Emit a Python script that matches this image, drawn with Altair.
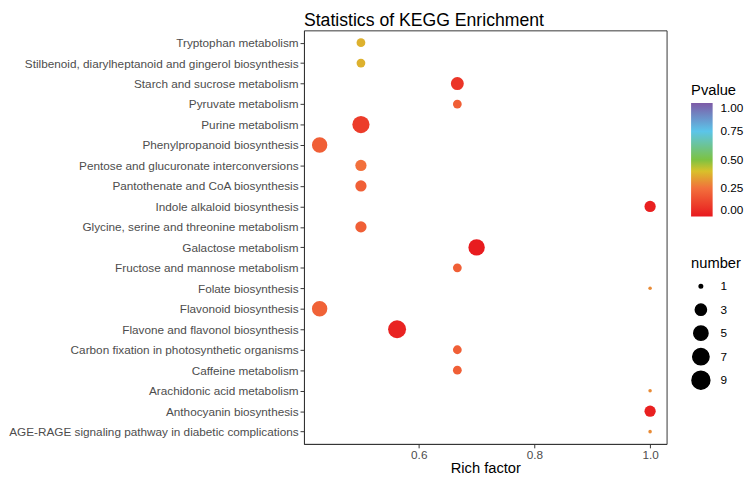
import altair as alt
import pandas as pd

pathways = [
    "Tryptophan metabolism",
    "Stilbenoid, diarylheptanoid and gingerol biosynthesis",
    "Starch and sucrose metabolism",
    "Pyruvate metabolism",
    "Purine metabolism",
    "Phenylpropanoid biosynthesis",
    "Pentose and glucuronate interconversions",
    "Pantothenate and CoA biosynthesis",
    "Indole alkaloid biosynthesis",
    "Glycine, serine and threonine metabolism",
    "Galactose metabolism",
    "Fructose and mannose metabolism",
    "Folate biosynthesis",
    "Flavonoid biosynthesis",
    "Flavone and flavonol biosynthesis",
    "Carbon fixation in photosynthetic organisms",
    "Caffeine metabolism",
    "Arachidonic acid metabolism",
    "Anthocyanin biosynthesis",
    "AGE-RAGE signaling pathway in diabetic complications",
]
rich_factor = [0.5, 0.5, 0.6667, 0.6667, 0.5, 0.4286, 0.5, 0.5, 1.0, 0.5,
               0.7, 0.6667, 1.0, 0.4286, 0.5625, 0.6667, 0.6667, 1.0, 1.0, 1.0]
number = [2, 2, 4, 2, 8, 6, 3, 3, 3, 3, 7, 2, 1, 6, 9, 2, 2, 1, 3, 1]
pvalue = [0.37, 0.37, 0.08, 0.2, 0.1, 0.2, 0.25, 0.2, 0.02, 0.2,
          0.01, 0.2, 0.3, 0.21, 0.03, 0.2, 0.2, 0.3, 0.02, 0.3]

pv_stops = [0, 0.25, 0.4, 0.5, 0.75, 1]
pv_colors = ["#E8191E", "#F2703C", "#D8C12A", "#7DC242", "#5BC5EA", "#7E5AA6"]

df = pd.DataFrame({
    "Pathway": pathways,
    "Rich factor": rich_factor,
    "number": number,
    "Pvalue": pvalue,
})

font = "Liberation Sans"

chart = alt.Chart(df).mark_circle(opacity=1).encode(
    x=alt.X("Rich factor:Q",
            scale=alt.Scale(domain=[0.4015, 1.0285], nice=False, zero=False),
            axis=alt.Axis(values=[0.6, 0.8, 1.0], format=".1f", title="Rich factor",
                          titlePadding=0, labelPadding=2)),
    y=alt.Y("Pathway:N", sort=alt.SortField("Pathway", order="descending"),
            scale=alt.Scale(padding=0.6), axis=alt.Axis(title=None, labelLimit=0)),
    color=alt.Color("Pvalue:Q",
                    scale=alt.Scale(domain=pv_stops, range=pv_colors, interpolate="rgb"),
                    legend=alt.Legend(title="Pvalue", values=[0, 0.25, 0.5, 0.75, 1],
                                      format=".2f", gradientLength=116,
                                      gradientThickness=22, labelOffset=8,
                                      orient="none", legendX=395, legendY=54)),
    size=alt.Size("number:Q",
                  scale=alt.Scale(type="pow", exponent=0.5, domain=[1, 9], range=[13, 336]),
                  legend=alt.Legend(title="number", values=[1, 3, 5, 7, 9],
                                    symbolFillColor="black", symbolStrokeColor="black",
                                    rowPadding=2, clipHeight=22, labelOffset=10,
                                    orient="none", legendX=395, legendY=230)),
).properties(
    width=370,
    height=422,
    padding={"left": 0, "top": 0, "right": 0, "bottom": 0},
    title=alt.TitleParams("Statistics of KEGG Enrichment", anchor="start", frame="group",
                          fontSize=18, fontWeight="normal", font=font,
                          color="black", offset=0),
).configure_view(
    stroke="#333333", strokeWidth=1
).configure_axis(
    grid=False, labelFont=font, labelFontSize=12, labelColor="#4D4D4D",
    tickColor="#333333", tickSize=4, domainColor="#333333",
    titleFont=font, titleFontSize=15, titleColor="black", titleFontWeight="normal",
).configure_legend(
    labelFont=font, labelFontSize=12, labelColor="black",
    titleFont=font, titleFontSize=15, titleColor="black", titleFontWeight="normal",
)

chart.save("out.html", embed_options={"renderer": "svg", "actions": False})
